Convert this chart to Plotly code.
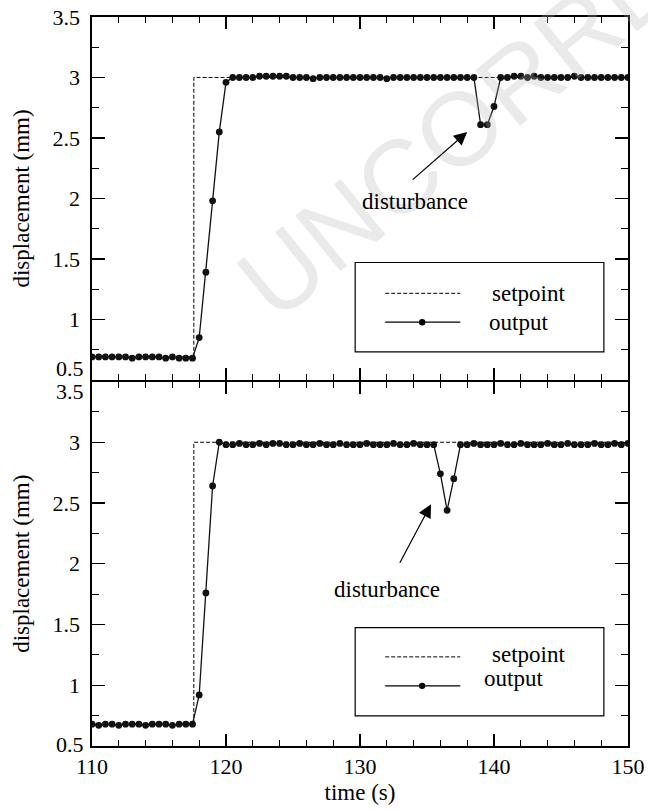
import plotly.graph_objects as go
from plotly.subplots import make_subplots

# ---------------- data ----------------
time = [110.0, 110.5, 111.0, 111.5, 112.0, 112.5, 113.0, 113.5, 114.0, 114.5,
        115.0, 115.5, 116.0, 116.5, 117.0, 117.5, 118.0, 118.5, 119.0, 119.5,
        120.0, 120.5, 121.0, 121.5, 122.0, 122.5, 123.0, 123.5, 124.0, 124.5,
        125.0, 125.5, 126.0, 126.5, 127.0, 127.5, 128.0, 128.5, 129.0, 129.5,
        130.0, 130.5, 131.0, 131.5, 132.0, 132.5, 133.0, 133.5, 134.0, 134.5,
        135.0, 135.5, 136.0, 136.5, 137.0, 137.5, 138.0, 138.5, 139.0, 139.5,
        140.0, 140.5, 141.0, 141.5, 142.0, 142.5, 143.0, 143.5, 144.0, 144.5,
        145.0, 145.5, 146.0, 146.5, 147.0, 147.5, 148.0, 148.5, 149.0, 149.5,
        150.0]

output_top = [0.69, 0.69, 0.69, 0.69, 0.69, 0.69, 0.68, 0.69, 0.69, 0.69,
              0.69, 0.68, 0.69, 0.68, 0.68, 0.68, 0.85, 1.39, 1.98, 2.55,
              2.96, 3.00, 3.00, 3.00, 3.00, 3.01, 3.01, 3.01, 3.01, 3.01,
              3.00, 3.00, 3.00, 2.99, 3.00, 3.00, 3.00, 3.00, 3.00, 3.00,
              3.00, 3.00, 3.00, 3.00, 2.99, 3.00, 3.00, 3.00, 3.00, 3.00,
              3.00, 3.00, 3.00, 3.00, 3.00, 3.00, 3.00, 3.00, 2.61, 2.61,
              2.76, 3.00, 3.00, 3.01, 3.01, 3.00, 3.01, 3.00, 3.00, 3.00,
              3.00, 3.00, 3.01, 3.00, 3.00, 3.00, 3.00, 3.00, 3.00, 3.00,
              3.00]

output_bottom = [0.68, 0.67, 0.68, 0.68, 0.67, 0.68, 0.68, 0.68, 0.67, 0.68,
                 0.68, 0.68, 0.67, 0.68, 0.68, 0.68, 0.92, 1.76, 2.64, 3.00,
                 2.98, 2.98, 2.99, 2.98, 2.98, 2.99, 2.98, 2.99, 2.99, 2.98,
                 2.98, 2.99, 2.98, 2.98, 2.99, 2.98, 2.98, 2.99, 2.98, 2.98,
                 2.98, 2.99, 2.98, 2.98, 2.98, 2.99, 2.98, 2.98, 2.99, 2.98,
                 2.98, 2.98, 2.74, 2.44, 2.70, 2.98, 2.98, 2.99, 2.98, 2.98,
                 2.98, 2.99, 2.98, 2.98, 2.99, 2.98, 2.98, 2.98, 2.99, 2.98,
                 2.98, 2.99, 2.98, 2.98, 2.98, 2.99, 2.98, 2.98, 2.99, 2.98,
                 2.99]

setpoint_time = [110.0, 117.6, 150.0]
setpoint_top = [0.69, 3.00, 3.00]
setpoint_bottom = [0.68, 3.00, 3.00]

# disturbance arrow tips (time, displacement)
dist_top = (138.0, 2.55)
dist_bottom = (135.3, 2.49)

x_tickvals = [110, 120, 130, 140, 150]
x_ticktext = ["110", "120", "130", "140", "150"]
y_tickvals_top = [1.0, 1.5, 2.0, 2.5, 3.0, 3.5]
y_ticktext_top = ["1", "1.5", "2", "2.5", "3", "3.5"]
y_tickvals_bottom = [1.0, 1.5, 2.0, 2.5, 3.0]
y_ticktext_bottom = ["1", "1.5", "2", "2.5", "3"]

# ---------------- figure ----------------
FONT = "Liberation Serif"
FS_TICK = 22
FS = 23
LW = 1.6
MT, MB, ML, MR = 17, 64, 92, 20
PLOT_H = 810 - MT - MB
fig = make_subplots(rows=2, cols=1, shared_xaxes=False, vertical_spacing=0)

panels = [(1, output_top, setpoint_top), (2, output_bottom, setpoint_bottom)]
for row, out, sp in panels:
    fig.add_trace(go.Scatter(x=setpoint_time, y=sp, mode="lines", name="setpoint",
                             line=dict(color="black", width=1, dash="4px,2px", shape="hv"),
                             showlegend=False, hoverinfo="skip"), row=row, col=1)
    fig.add_trace(go.Scatter(x=time, y=out, mode="lines+markers", name="output",
                             line=dict(color="#111111", width=1.3),
                             marker=dict(color="#111111", size=6.8, symbol="circle"),
                             showlegend=False, hoverinfo="skip"), row=row, col=1)

axis_common = dict(showline=True, linecolor="black", linewidth=LW, mirror="allticks",
                   ticks="inside", tickcolor="black", tickwidth=1.2, showgrid=False,
                   zeroline=False, automargin=False,
                   tickfont=dict(family=FONT, size=FS_TICK, color="black"))

for row in (1, 2):
    fig.update_xaxes(range=[110, 150], tickvals=x_tickvals, ticktext=x_ticktext, ticklen=12,
                     minor=dict(dtick=2, ticklen=6, ticks="inside", tickcolor="black",
                                tickwidth=1.2, showgrid=False),
                     showticklabels=(row == 2), **axis_common, row=row, col=1)

ytitle = dict(text="displacement (mm)", font=dict(family=FONT, size=FS, color="black"), standoff=16)
fig.update_yaxes(range=[0.5, 3.5], tickvals=y_tickvals_top, ticktext=y_ticktext_top,
                 ticklen=13, ticklabelstandoff=6, domain=[0.5 + LW / PLOT_H, 1.0],
                 minor=dict(dtick=0.25, ticklen=7, ticks="inside", tickcolor="black",
                            tickwidth=1.2, showgrid=False),
                 title=ytitle, **axis_common, row=1, col=1)
fig.update_yaxes(range=[0.5, 3.5], tickvals=y_tickvals_bottom, ticktext=y_ticktext_bottom,
                 ticklen=13, ticklabelstandoff=6, domain=[0.0, 0.5],
                 minor=dict(dtick=0.25, ticklen=7, ticks="inside", tickcolor="black",
                            tickwidth=1.2, showgrid=False),
                 title=ytitle, **axis_common, row=2, col=1)
fig.update_xaxes(title=dict(text="time (s)", font=dict(family=FONT, size=FS, color="black"),
                            standoff=6), row=2, col=1)

annotations = []
shapes = []

# watermark
annotations.append(dict(text="UNCORRECTED PROOF", xref="paper", yref="paper", x=1.175, y=1.139,
                        xanchor="center", yanchor="middle", showarrow=False, textangle=-39,
                        font=dict(family="Liberation Sans", size=104,
                                  color="rgba(180,180,180,0.28)")))

# boundary labels
annotations.append(dict(text="3.5", xref="paper", yref="y2 domain", x=0, y=1.0, xanchor="right",
                        yanchor="top", xshift=-6, yshift=5, showarrow=False,
                        font=dict(family=FONT, size=FS_TICK, color="black")))
annotations.append(dict(text="0.5", xref="paper", yref="y domain", x=0, y=0.0, xanchor="right",
                        yanchor="bottom", xshift=-6, yshift=-3, showarrow=False,
                        font=dict(family=FONT, size=FS_TICK, color="black")))
annotations.append(dict(text="0.5", xref="paper", yref="y2 domain", x=0, y=0.0, xanchor="right",
                        yanchor="middle", xshift=-6, yshift=2, showarrow=False,
                        font=dict(family=FONT, size=FS_TICK, color="black")))

# disturbance annotations
for (xr, yr, tip, ax, ay, txt_dx, txt_dy) in [("x", "y", dist_top, -56, 49, -52, 70),
                                             ("x2", "y2", dist_bottom, -32, 60, -44, 85)]:
    annotations.append(dict(x=tip[0], y=tip[1], xref=xr, yref=yr, text="", showarrow=True,
                            ax=ax, ay=ay, arrowhead=2, arrowsize=2.2, arrowwidth=1.2,
                            arrowcolor="black"))
    annotations.append(dict(x=tip[0], y=tip[1], xref=xr, yref=yr, text="disturbance",
                            showarrow=False, xshift=txt_dx, yshift=-txt_dy,
                            font=dict(family=FONT, size=FS, color="black")))

# custom legends
legend_geo = {
    "top": dict(xr="x domain", yr="y domain", box=(0.491, 0.955, 0.077, 0.3235),
                sp_y=0.2386, sp_ty=0.2386, out_y=0.159, out_ty=0.159, sp_tx=0.7425, out_tx=0.737),
    "bottom": dict(xr="x2 domain", yr="y2 domain", box=(0.491, 0.955, 0.0824, 0.325),
                   sp_y=0.2445, sp_ty=0.25, out_y=0.165, out_ty=0.184, sp_tx=0.7425, out_tx=0.728),
}
for g in legend_geo.values():
    x0, x1, y0, y1 = g["box"]
    shapes.append(dict(type="rect", xref=g["xr"], yref=g["yr"], x0=x0, x1=x1, y0=y0, y1=y1,
                       line=dict(color="black", width=1.2), fillcolor="white", layer="above"))
    shapes.append(dict(type="line", xref=g["xr"], yref=g["yr"], x0=0.547, x1=0.687,
                       y0=g["sp_y"], y1=g["sp_y"], line=dict(color="black", width=1, dash="4px,2px")))
    shapes.append(dict(type="line", xref=g["xr"], yref=g["yr"], x0=0.547, x1=0.687,
                       y0=g["out_y"], y1=g["out_y"], line=dict(color="black", width=1.3)))
    shapes.append(dict(type="circle", xref=g["xr"], yref=g["yr"], xsizemode="pixel",
                       ysizemode="pixel", xanchor=0.616, yanchor=g["out_y"], x0=-3.2, x1=3.2,
                       y0=-3.2, y1=3.2, fillcolor="black", line=dict(color="black", width=0)))
    annotations.append(dict(text="setpoint", xref=g["xr"], yref=g["yr"], x=g["sp_tx"],
                            y=g["sp_ty"], xanchor="left", yanchor="middle", showarrow=False,
                            font=dict(family=FONT, size=FS, color="black")))
    annotations.append(dict(text="output", xref=g["xr"], yref=g["yr"], x=g["out_tx"],
                            y=g["out_ty"], xanchor="left", yanchor="middle", showarrow=False,
                            font=dict(family=FONT, size=FS, color="black")))

fig.update_layout(width=648, height=810, margin=dict(l=ML, r=MR, t=MT, b=MB, autoexpand=False),
                  plot_bgcolor="white", paper_bgcolor="white", showlegend=False,
                  hovermode=False, annotations=annotations, shapes=shapes,
                  font=dict(family=FONT, size=FS, color="black"))

fig.write_html("out.html", config={"displayModeBar": False, "staticPlot": True},
               post_script="document.body.style.margin='0';document.body.style.padding='0';"
                           "document.documentElement.style.overflow='hidden';")
